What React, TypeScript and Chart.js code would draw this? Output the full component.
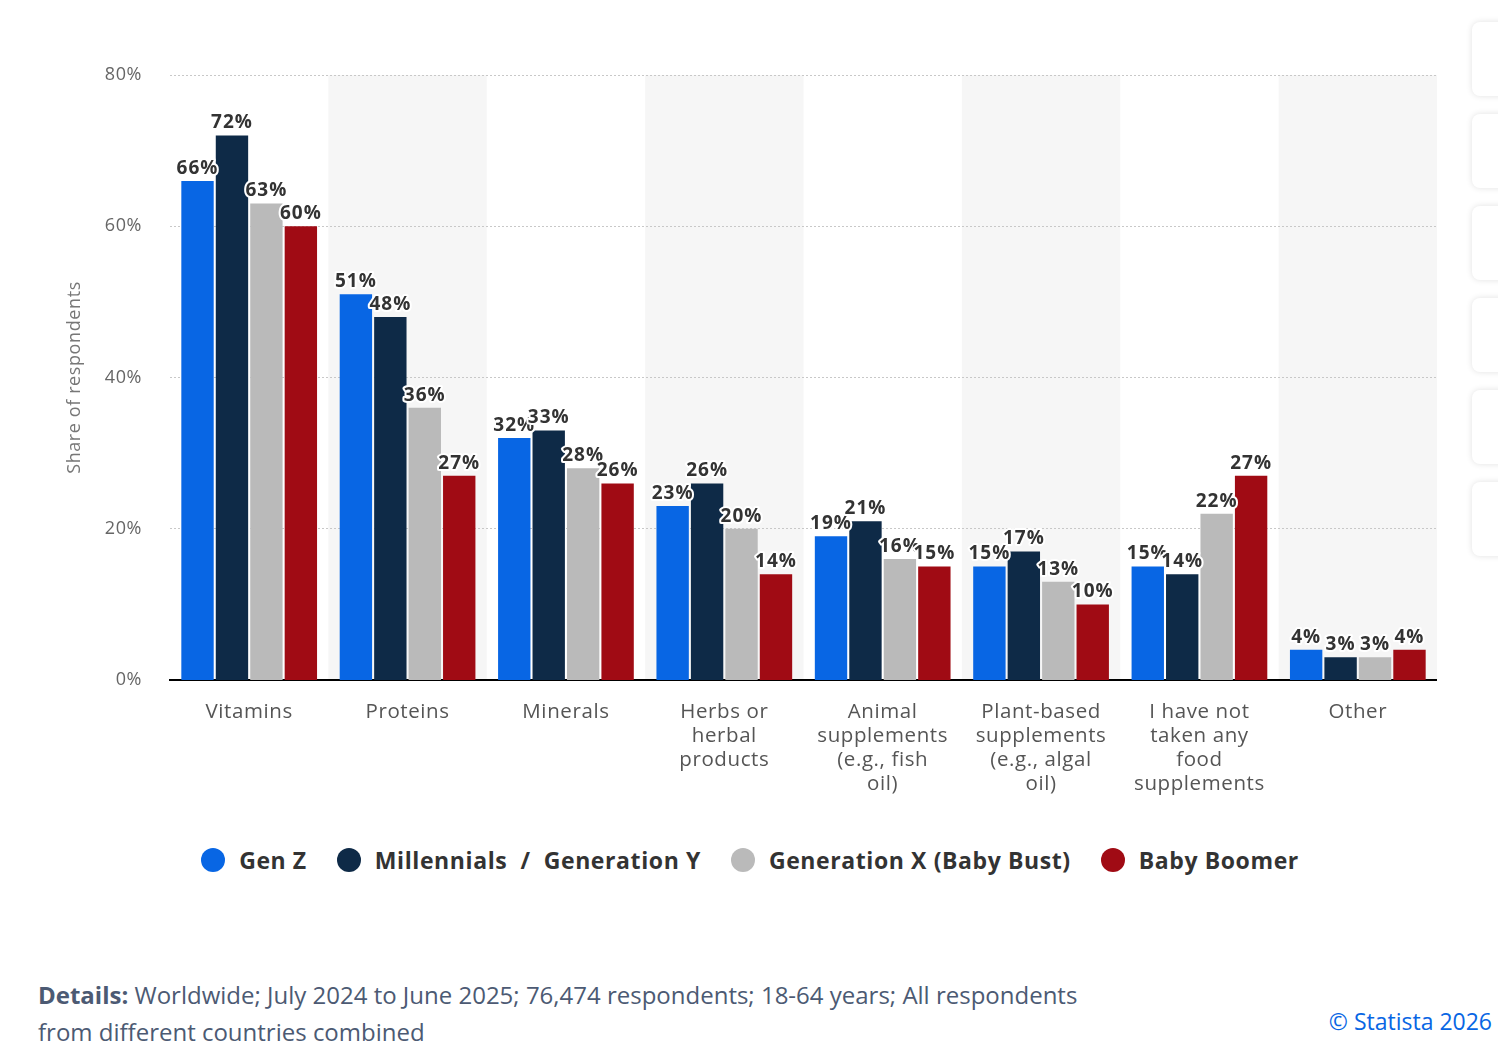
import React, { useEffect, useRef } from "react";
import { Chart, registerables } from "chart.js";
Chart.register(...registerables);

const categories = [["Vitamins"], ["Proteins"], ["Minerals"], ["Herbs or", "herbal", "products"], ["Animal", "supplements", "(e.g., fish", "oil)"], ["Plant-based", "supplements", "(e.g., algal", "oil)"], ["I have not", "taken any", "food", "supplements"], ["Other"]];
const seriesNames = ["Gen Z", "Millennials / Generation Y", "Generation X (Baby Bust)", "Baby Boomer"];
const colors = ["#0866e4", "#0e2a47", "#bababa", "#a00b14"];
const genZ = [66, 51, 32, 23, 19, 15, 15, 4];
const millennials = [72, 48, 33, 26, 21, 17, 14, 3];
const genX = [63, 36, 28, 20, 16, 13, 22, 3];
const boomers = [60, 27, 26, 14, 15, 10, 27, 4];
const yTicks = [0, 20, 40, 60, 80];
const FONT = "'Open Sans', 'Noto Sans', sans-serif";

export default function App() {
  const ref = useRef<HTMLCanvasElement>(null);
  useEffect(() => {
    const bands = {
      id: "bands",
      beforeDraw(chart: any) {
        const { ctx, chartArea } = chart;
        const x = chart.scales.x;
        const w = (chartArea.right - chartArea.left) / categories.length;
        ctx.save();
        ctx.fillStyle = "#f6f6f6";
        for (let i = 1; i < categories.length; i += 2) {
          const c = x.getPixelForValue(i);
          ctx.fillRect(c - w / 2, chartArea.top, w, chartArea.bottom - chartArea.top);
        }
        ctx.restore();
      },
    };
    const labels = {
      id: "labels",
      afterDatasetsDraw(chart: any) {
        const { ctx } = chart;
        ctx.save();
        ctx.font = `bold 19px ${FONT}`;
        (ctx as any).letterSpacing = "1px";
        ctx.textAlign = "center";
        ctx.textBaseline = "bottom";
        ctx.lineJoin = "round";
        chart.data.datasets.forEach((ds: any, di: number) => {
          chart.getDatasetMeta(di).data.forEach((bar: any, i: number) => {
            const t = ds.data[i] + "%";
            ctx.lineWidth = 4;
            ctx.strokeStyle = "#fff";
            ctx.strokeText(t, bar.x, bar.y - 3);
            ctx.fillStyle = "#333";
            ctx.fillText(t, bar.x, bar.y - 3);
          });
        });
        ctx.restore();
      },
    };
    const chart = new Chart(ref.current!, {
      type: "bar",
      data: {
        labels: categories as any,
        datasets: [genZ, millennials, genX, boomers].map((d, i) => ({
          label: seriesNames[i],
          data: d,
          backgroundColor: colors[i],
          categoryPercentage: 0.87,
          barPercentage: 0.94,
        })),
      },
      options: {
        animation: false,
        responsive: false,
        layout: { padding: { left: 60, top: 75, right: 0, bottom: 0 } },
        plugins: { legend: { display: false }, tooltip: { enabled: false } },
        scales: {
          x: {
            grid: { display: false },
            border: { color: "#000", width: 2 },
            ticks: { color: "#555", font: { family: FONT, size: 20.5, lineHeight: 1.17 } as any, maxRotation: 0, autoSkip: false, padding: 12 },
            afterFit: (s: any) => { s.height = 130; },
          },
          y: {
            min: 0, max: 80,
            afterBuildTicks: (s: any) => { s.ticks = yTicks.map((v) => ({ value: v })); },
            grid: { color: "#c8c8c8", tickLength: 0, lineWidth: (c: any) => (c.tick && c.tick.value === 0 ? 0 : 1) } as any,
            border: { display: false, dash: [2, 2] },
            ticks: { color: "#666", font: { family: FONT, size: 18 }, padding: 28, callback: (v: any) => v + "%" },
            title: { display: true, text: "Share of respondents", color: "#777", font: { family: FONT, size: 18 } },
            afterFit: (s: any) => { s.width = 110; },
          },
        },
      },
      plugins: [bands, labels],
    });
    return () => chart.destroy();
  }, []);

  return (
    <div style={{ position: "absolute", left: 0, top: 0, width: 1498, height: 1062, background: "#fff", fontFamily: FONT, overflow: "hidden" }}>
      <canvas ref={ref} width={1437} height={810} style={{ position: "absolute", left: 0, top: 0, letterSpacing: "0.6px" }} />
      <div style={{ position: "absolute", top: 844, left: 0, width: 1500, display: "flex", justifyContent: "center", gap: 30, fontSize: 23, fontWeight: 700, color: "#333", letterSpacing: "0.6px" }}>
        {seriesNames.map((n, i) => (
          <div key={n} style={{ display: "flex", alignItems: "center" }}>
            <span style={{ width: 24, height: 24, borderRadius: 12, background: colors[i], marginRight: 14, display: "inline-block" }} />
            <span style={{ whiteSpace: "pre" }}>{n.replace(" / ", "  /  ")}</span>
          </div>
        ))}
      </div>
      <div style={{ position: "absolute", left: 38, top: 976, fontSize: 24, color: "#4c5a73", lineHeight: "37px", width: 1150 }}>
        <b>Details:</b> Worldwide; July 2024 to June 2025; 76,474 respondents; 18-64 years; All respondents<br />from different countries combined
      </div>
      <div style={{ position: "absolute", right: 6, top: 1005, fontSize: 23, color: "#0866e4" }}>© Statista 2026</div>
      {[22, 114, 206, 298, 390, 482].map((t) => (
        <div key={t} style={{ position: "absolute", left: 1472, top: t, width: 60, height: 74, borderRadius: 8, background: "#fff", boxShadow: "0 0 6px rgba(0,0,0,0.12)" }} />
      ))}
    </div>
  );
}
